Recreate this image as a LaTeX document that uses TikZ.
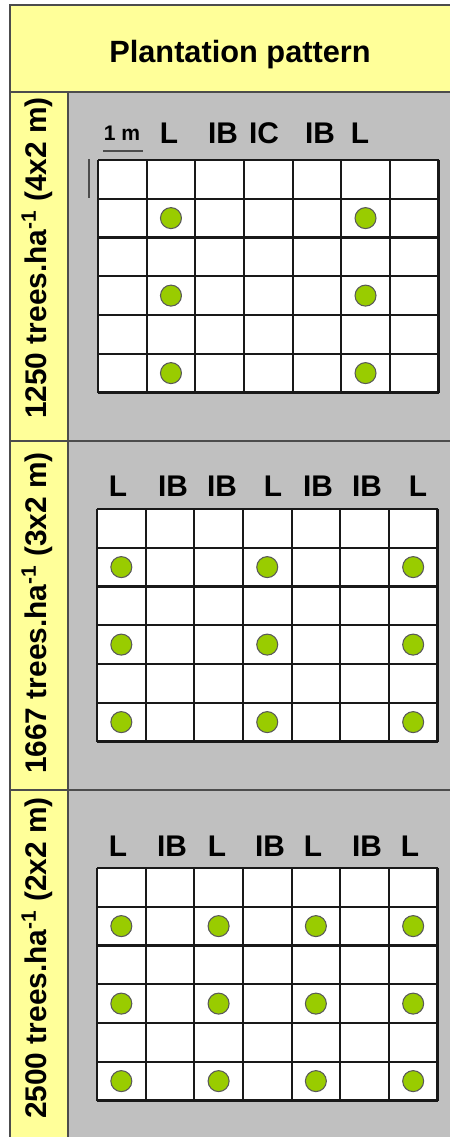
\documentclass[tikz,border=0pt]{standalone}
\usepackage{fontspec}
\setmainfont{Liberation Sans}

\definecolor{paleyellow}{HTML}{FFFF99}
\definecolor{panelgray}{HTML}{C0C0C0}
\definecolor{treegreen}{HTML}{99CC00}

\begin{document}
\begin{tikzpicture}[x=0.02cm,y=-0.02cm,
    rule/.style={draw=black!70,line width=0.8pt},
    gridline/.style={draw=black!90,line width=1.2pt},
    tree/.style={circle,fill=treegreen,draw=black!65,line width=0.6pt,
      minimum size=0.42cm,inner sep=0pt},
    collabel/.style={font=\bfseries\fontsize{17}{19}\selectfont,anchor=base},
    density/.style={font=\bfseries\fontsize{17}{19}\selectfont,rotate=90,anchor=base}]
  \useasboundingbox (0,0) rectangle (450,1137);

  % table cells
  \fill[white] (0,0) rectangle (450,1137);
  \fill[paleyellow] (10,5) rectangle (450,92);
  \fill[paleyellow] (10,92) rectangle (68,1137);
  \fill[panelgray] (68,92) rectangle (450,1137);
  \draw[rule] (10,1137) -- (10,5) -- (450,5);
  \draw[rule] (68,92) -- (68,1137);
  \foreach \y in {92,441,790}
    \draw[rule] (10,\y) -- (450,\y);

  \node[font=\bfseries\fontsize{17.5}{20}\selectfont,anchor=base]
    (title) at (240,62) {Plantation pattern};

  % spacing per row
  \node[density] (d1250) at (47,258) {1250 trees.ha\textsuperscript{-1} (4x2 m)};
  \node[density] (d1667) at (47,613) {1667 trees.ha\textsuperscript{-1} (3x2 m)};
  \node[density] (d2500) at (47,958) {2500 trees.ha\textsuperscript{-1} (2x2 m)};

  % plots: 7 columns x 6 rows
  \foreach \lft/\top in {98/160,97/509,97/868} {
    \fill[white] (\lft,\top) rectangle ++(340.5,232.5);
    \foreach \i in {0,...,7}
      \draw[gridline] (\lft+\i*48.64,\top) -- ++(0,232.5);
    \foreach \j in {0,...,6}
      \draw[gridline] (\lft,\top+\j*38.75) -- ++(340.5,0);
  }

  % trees
  \foreach \c in {2,6}
    \foreach \r in {2,4,6}
      \node[tree] (a-\c-\r) at (98+\c*48.64-24.32,160+\r*38.75-19.4) {};
  \foreach \c in {1,4,7}
    \foreach \r in {2,4,6}
      \node[tree] (b-\c-\r) at (97+\c*48.64-24.32,509+\r*38.75-19.4) {};
  \foreach \c in {1,3,5,7}
    \foreach \r in {2,4,6}
      \node[tree] (c-\c-\r) at (97+\c*48.64-24.32,868+\r*38.75-19.4) {};

  % row labels
  \node[font=\bfseries\fontsize{12}{14}\selectfont,anchor=base] (onem) at (122,140) {1 m};
  \draw[black!70,line width=1pt] (103,151) -- (143,151);
  \draw[black!70,line width=1pt] (89,159) -- (89,198);
  \foreach \x/\t in {169/L,223/IB,264/IC,320/IB,360/L}
    \node[collabel] (la-\x) at (\x,143) {\t};
  \foreach \x/\t in {118/L,173/IB,222/IB,273/L,318/IB,367/IB,418/L}
    \node[collabel] (lb-\x) at (\x,496) {\t};
  \foreach \x/\t in {118/L,172/IB,217/L,270/IB,313/L,367/IB,410/L}
    \node[collabel] (lc-\x) at (\x,856) {\t};
\end{tikzpicture}
\end{document}
